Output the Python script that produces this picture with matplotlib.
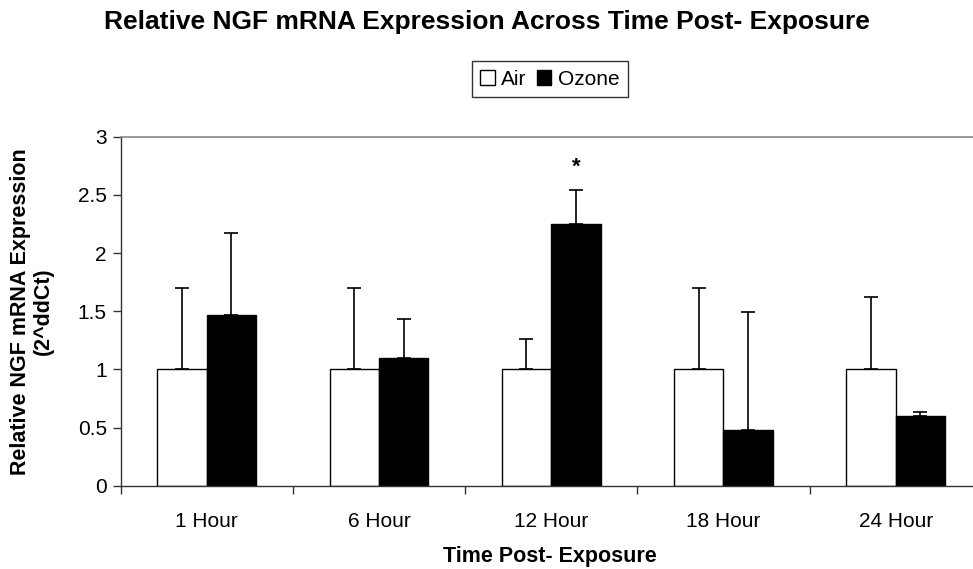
import numpy as np
import matplotlib
matplotlib.use("Agg")
import matplotlib.pyplot as plt
from matplotlib.ticker import FuncFormatter

plt.rcParams['font.family'] = ['Liberation Sans', 'DejaVu Sans']

# data
categories = ["1 Hour", "6 Hour", "12 Hour", "18 Hour", "24 Hour"]
air_mean = [1.0, 1.0, 1.0, 1.0, 1.0]
air_err = [0.70, 0.70, 0.26, 0.70, 0.62]
ozone_mean = [1.47, 1.10, 2.25, 0.48, 0.60]
ozone_err = [0.70, 0.33, 0.29, 1.01, 0.03]
significant = [False, False, True, False, False]

fig = plt.figure(figsize=(9.73, 5.69), dpi=100)
ax = fig.add_axes([0.124, 0.1464, 0.885, 0.6134])

x = np.arange(len(categories))
w = 0.287

ax.bar(x - w / 2, air_mean, w, color='white', edgecolor='black', linewidth=1.0, label='Air', zorder=2)
ax.bar(x + w / 2, ozone_mean, w, color='black', edgecolor='black', linewidth=1.0, label='Ozone', zorder=2)

ax.errorbar(x - w / 2, air_mean, yerr=[np.zeros(len(x)), air_err], fmt='none',
            ecolor='black', elinewidth=1.2, capsize=4.7, capthick=1.2, zorder=1)
ax.errorbar(x + w / 2, ozone_mean, yerr=[np.zeros(len(x)), ozone_err], fmt='none',
            ecolor='black', elinewidth=1.2, capsize=4.7, capthick=1.2, zorder=1)

for i, sig in enumerate(significant):
    if sig:
        ax.text(x[i] + w / 2, ozone_mean[i] + ozone_err[i] + 0.11, '*', ha='center', va='bottom',
                fontsize=16, fontweight='bold')

ax.set_xlim(-0.5, len(categories) - 0.5)
ax.set_ylim(0, 3)
ax.set_yticks(np.arange(0, 3.01, 0.5))
ax.yaxis.set_major_formatter(FuncFormatter(lambda v, p: f"{v:g}"))
ax.set_xticks(x)
ax.set_xticklabels(categories)
ax.set_xticks(np.arange(-0.5, len(categories) + 0.5, 1), minor=True)
ax.tick_params(axis='x', which='major', length=0, pad=19, labelsize=15)
ax.tick_params(axis='x', which='minor', length=6, width=1, color='#333333')
ax.tick_params(axis='y', length=6, width=1, color='#333333', labelsize=15, pad=4)

for s in ['left', 'bottom']:
    ax.spines[s].set_color('#333333')
    ax.spines[s].set_linewidth(1.0)
ax.spines['top'].set_color('#888888')
ax.spines['top'].set_linewidth(1.2)
ax.spines['right'].set_visible(False)

fig.text(0.5, 0.961, "Relative NGF mRNA Expression Across Time Post- Exposure",
         ha='center', va='center', fontsize=19, fontweight='bold')
fig.text(0.565, 0.022, "Time Post- Exposure", ha='center', va='center', fontsize=15.5, fontweight='bold')
fig.text(0.033, 0.453, "Relative NGF mRNA Expression\n(2^ddCt)", rotation=90, ha='center',
         va='center', multialignment='center', fontsize=15.5, fontweight='bold', linespacing=1.1)

leg = fig.legend(loc='center', bbox_to_anchor=(0.565, 0.861), ncol=2, frameon=True, fancybox=False,
                 edgecolor='black', fontsize=15, handlelength=0.7, handleheight=0.7,
                 handletextpad=0.3, columnspacing=0.5, borderpad=0.4, borderaxespad=0)
leg.get_frame().set_linewidth(1.0)

fig.savefig("out.png", dpi=100)
